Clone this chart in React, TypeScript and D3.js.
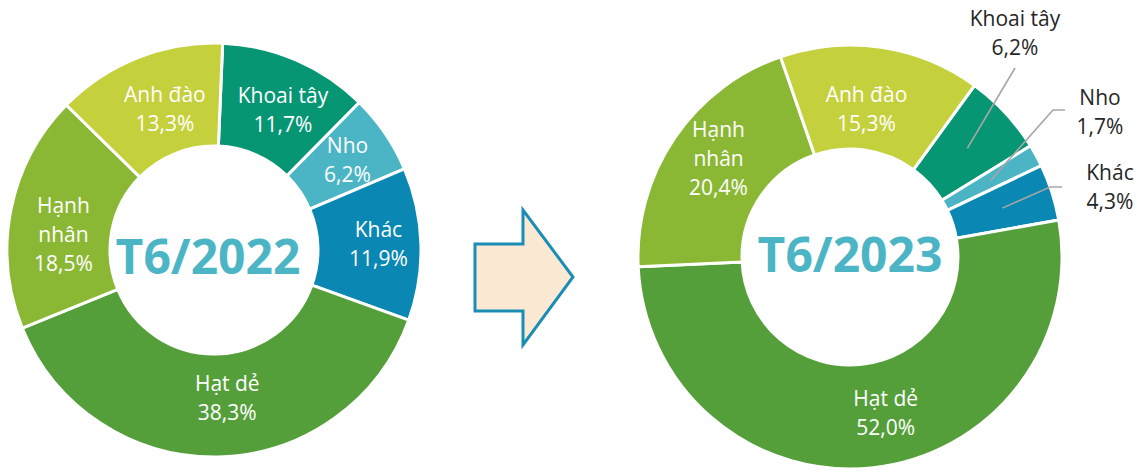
import React from 'react';
import * as d3 from 'd3';

// categories, clockwise from the first slice
const categories = ['Khoai tây', 'Nho', 'Khác', 'Hạt dẻ', 'Hạnh nhân', 'Anh đào'];
const values2022 = [11.7, 6.2, 11.9, 38.3, 18.5, 13.3];
const values2023 = [6.2, 1.7, 4.3, 52.0, 20.4, 15.3];
const titles = ['T6/2022', 'T6/2023'];

const colors = ['#069673', '#4bb5c5', '#0b87b3', '#559f3b', '#8bb834', '#c4d03c'];
const color = d3.scaleOrdinal<string, string>().domain(categories).range(colors);

const FONT = '"Open Sans", "Noto Sans", sans-serif';
const LINE = 29;

const fmt = (v: number) => v.toFixed(1).replace('.', ',') + '%';
const nameLines = (c: string) => (c === 'Hạnh nhân' ? ['Hạnh', 'nhân'] : [c]);

type Nudge = Record<string, [number, number]>;
type Outside = Record<string, { label: [number, number]; elbow: [number, number][] }>;

interface DonutCfg {
  title: string;
  values: number[];
  cx: number;
  cy: number;
  rOut: number;
  rIn: number;
  start: number; // degrees, clockwise from 12 o'clock
  titleDx: number;
  titleDy: number;
  nudge: Nudge;
  outside: Outside;
}

const charts: DonutCfg[] = [
  {
    title: titles[0],
    values: values2022,
    cx: 214, cy: 250, rOut: 207, rIn: 104, start: 2.4,
    titleDx: -6, titleDy: 24,
    nudge: {
      'Khoai tây': [7, 3], 'Nho': [5, -2], 'Khác': [9, -1],
      'Hạt dẻ': [10, -7], 'Hạnh nhân': [2, 15], 'Anh đào': [8, 4],
    },
    outside: {},
  },
  {
    title: titles[1],
    values: values2023,
    cx: 850, cy: 257, rOut: 212, rIn: 108, start: 36,
    titleDx: 0, titleDy: 15,
    nudge: { 'Hạt dẻ': [18, -3], 'Hạnh nhân': [1, -8], 'Anh đào': [-7, 11] },
    // label centre and leader points, relative to the donut centre
    outside: {
      'Khoai tây': { label: [165, -224], elbow: [[165, -189]] },
      'Nho': { label: [250, -145], elbow: [[215, -147], [203, -147]] },
      'Khác': { label: [260, -70], elbow: [[212, -70], [200, -70]] },
    },
  },
];

function Donut({ cfg }: { cfg: DonutCfg }) {
  const rad = (cfg.start * Math.PI) / 180;
  const pie = d3.pie<number>().sort(null).value((d) => d).startAngle(rad).endAngle(rad + 2 * Math.PI);
  const arcs = pie(cfg.values);
  const arc = d3.arc<d3.PieArcDatum<number>>().innerRadius(cfg.rIn).outerRadius(cfg.rOut);
  const line = d3.line();

  return (
    <g transform={`translate(${cfg.cx},${cfg.cy})`}>
      {arcs.map((a, i) => (
        <path key={i} d={arc(a) || ''} fill={color(categories[i])} stroke="#fff" strokeWidth={3} strokeLinejoin="round" />
      ))}
      {arcs.map((a, i) => {
        const cat = categories[i];
        const [x, y] = arc.centroid(a);
        const lines = [...nameLines(cat), fmt(a.value)];
        const out = cfg.outside[cat];
        if (out) {
          const [lx, ly] = out.label;
          const y0 = ly - ((lines.length - 1) * LINE) / 2 + 7;
          const pts: [number, number][] = [...out.elbow, [x, y]];
          return (
            <g key={i}>
              <path d={line(pts) || ''} fill="none" stroke="#a6a6a6" strokeWidth={1.6} />
              <text x={lx} y={y0} textAnchor="middle" fontFamily={FONT} fontSize={21} fill="#262626">
                {lines.map((t, j) => (
                  <tspan key={j} x={lx} dy={j === 0 ? 0 : LINE}>{t}</tspan>
                ))}
              </text>
            </g>
          );
        }
        const [dx, dy] = cfg.nudge[cat] || [0, 0];
        const tx = x + dx;
        const y0 = y + dy - ((lines.length - 1) * LINE) / 2 + 7;
        return (
          <text key={i} x={tx} y={y0} textAnchor="middle" fontFamily={FONT} fontSize={21} fill="#fff">
            {lines.map((t, j) => (
              <tspan key={j} x={tx} dy={j === 0 ? 0 : LINE}>{t}</tspan>
            ))}
          </text>
        );
      })}
      <text x={cfg.titleDx} y={cfg.titleDy} textAnchor="middle" fontFamily={FONT} fontWeight={700} fontSize={48} fill="#4bb5c5">
        {cfg.title}
      </text>
    </g>
  );
}

export default function App() {
  const width = 1137;
  const height = 470;
  return (
    <svg width={width} height={height} style={{ position: 'absolute', left: 0, top: 0, background: '#fff' }}>
      {charts.map((c) => (
        <Donut key={c.title} cfg={c} />
      ))}
      {/* block arrow between the two donuts */}
      <path d="M475,244 L523,244 L523,210 L573,277 L523,345 L523,311 L475,311 Z" fill="#fbe9d3" stroke="#1b8db5" strokeWidth={3} strokeLinejoin="miter" />
    </svg>
  );
}
